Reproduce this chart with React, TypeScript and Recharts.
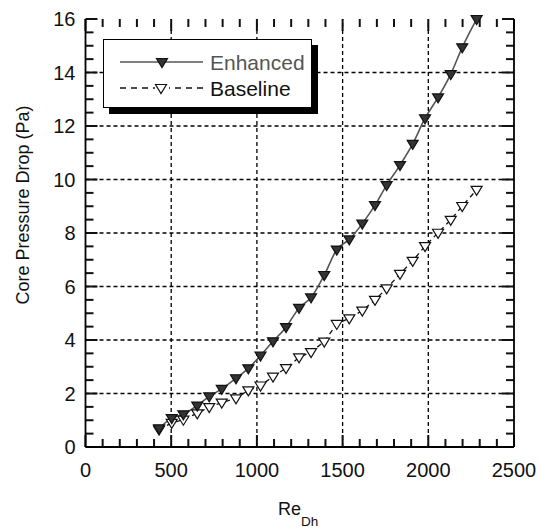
import { ComposedChart, Line, XAxis, YAxis, ReferenceLine } from 'recharts'

// Reynolds numbers (shared by both series)
const RE_DH = [429, 503, 571, 652, 722, 795, 878, 950, 1021, 1094, 1170, 1246, 1316, 1393, 1466, 1539, 1615, 1689, 1757, 1835, 1909, 1981, 2057, 2131, 2198, 2282]
const ENHANCED = [0.7, 1.08, 1.22, 1.55, 1.89, 2.17, 2.57, 2.94, 3.42, 3.95, 4.48, 5.2, 5.59, 6.43, 7.38, 7.76, 8.35, 9.04, 9.79, 10.54, 11.33, 12.29, 13.07, 13.94, 14.94, 16.0]
const BASELINE = [0.65, 0.9, 1.02, 1.26, 1.49, 1.66, 1.82, 2.12, 2.3, 2.63, 2.95, 3.35, 3.55, 3.94, 4.6, 4.81, 5.1, 5.5, 5.93, 6.47, 6.96, 7.51, 8.01, 8.49, 9.01, 9.61]

const X_TICKS = Array.from({ length: 26 }, (_, i) => i * 100)
const Y_TICKS = Array.from({ length: 33 }, (_, i) => i * 0.5)
const GRID_X = [500, 1000, 1500, 2000]
const GRID_Y = [2, 4, 6, 8, 10, 12, 14]

const data = RE_DH.map((re, i) => ({ re, enhanced: ENHANCED[i], baseline: BASELINE[i] }))

const FONT = '"Liberation Sans", Arial, sans-serif'
// plot is 428.5 x 428 px for 2500 x 16 units, used to size the inward ticks
const PX_X = 2500 / 428.5
const PX_Y = 16 / 428

const isMajorX = (v: number) => v % 500 === 0
const isMajorY = (v: number) => v % 2 === 0
const tickLen = (major: boolean) => (major ? 12 : 8)

function Tri({ cx, cy, fill }: { cx: number; cy: number; fill: string }) {
  return (
    <path
      d={`M${cx - 5.5},${cy - 3.5} L${cx + 5.5},${cy - 3.5} L${cx},${cy + 5.5} Z`}
      fill={fill}
      stroke="#111"
      strokeWidth={1.2}
    />
  )
}

function BottomLabel(p: any) {
  const v = p.payload.value
  if (!isMajorX(v)) return <g />
  return (
    <text x={p.x} y={p.y + 30} textAnchor="middle" fontSize={20} fontFamily={FONT} fill="#111">
      {v}
    </text>
  )
}

function LeftLabel(p: any) {
  const v = p.payload.value
  if (!isMajorY(v)) return <g />
  return (
    <text x={p.x - 10} y={p.y + 7} textAnchor="end" fontSize={20} fontFamily={FONT} fill="#111">
      {v}
    </text>
  )
}

function ChartLegend() {
  return (
    <div
      style={{
        position: 'absolute',
        left: 103,
        top: 39,
        width: 209,
        height: 69,
        boxSizing: 'border-box',
        border: '1.5px solid #000',
        boxShadow: '6px 6px 0 #000',
        background: '#fff',
      }}
    >
      <svg width={206} height={66} style={{ display: 'block' }}>
        <line x1={16} x2={99} y1={22} y2={22} stroke="#555" strokeWidth={1.5} />
        <Tri cx={58} cy={22} fill="#333" />
        <text x={106} y={30} fontSize={21} fontFamily={FONT} fill="#555">Enhanced</text>
        <line x1={16} x2={99} y1={48} y2={48} stroke="#111" strokeWidth={1.5} strokeDasharray="6 5" />
        <rect x={51} y={42} width={14} height={12} fill="#fff" />
        <Tri cx={57} cy={48} fill="#fff" />
        <text x={106} y={56} fontSize={21} fontFamily={FONT} fill="#111">Baseline</text>
      </svg>
    </div>
  )
}

const tickStroke = { stroke: '#111', strokeWidth: 2, ifOverflow: 'visible' as const }
const gridStroke = { stroke: '#000', strokeWidth: 1.3, strokeDasharray: '4 3' }
const frame = { stroke: '#000', strokeWidth: 1.8 }

export default function App() {
  return (
    <div style={{ position: 'absolute', left: 0, top: 0, width: 539, height: 528, background: '#fff' }}>
      <ComposedChart width={539} height={528} data={data} margin={{ top: 19, right: 0, bottom: 0, left: 0 }}>
        <XAxis
          xAxisId="b"
          dataKey="re"
          type="number"
          orientation="bottom"
          domain={[0, 2500]}
          ticks={X_TICKS}
          interval={0}
          height={81}
          tickSize={0}
          tickMargin={0}
          tick={BottomLabel}
          axisLine={frame}
          tickLine={false}
        />
        <XAxis xAxisId="t" dataKey="re" type="number" orientation="top" domain={[0, 2500]} height={0} tick={false} axisLine={frame} tickLine={false} />
        <YAxis
          yAxisId="l"
          type="number"
          orientation="left"
          domain={[0, 16]}
          ticks={Y_TICKS}
          interval={0}
          width={85.5}
          tickSize={0}
          tickMargin={0}
          tick={LeftLabel}
          axisLine={frame}
          tickLine={false}
        />
        <YAxis yAxisId="r" type="number" orientation="right" domain={[0, 16]} width={25} tick={false} axisLine={frame} tickLine={false} />
        {GRID_X.map((v) => (
          <ReferenceLine key={`gx${v}`} x={v} xAxisId="b" yAxisId="l" {...gridStroke} />
        ))}
        {GRID_Y.map((v) => (
          <ReferenceLine key={`gy${v}`} y={v} xAxisId="b" yAxisId="l" {...gridStroke} />
        ))}
        {X_TICKS.map((v) => (
          <ReferenceLine key={`bt${v}`} xAxisId="b" yAxisId="l" segment={[{ x: v, y: 0 }, { x: v, y: tickLen(isMajorX(v)) * PX_Y }]} {...tickStroke} />
        ))}
        {X_TICKS.map((v) => (
          <ReferenceLine key={`tt${v}`} xAxisId="b" yAxisId="l" segment={[{ x: v, y: 16 }, { x: v, y: 16 - tickLen(isMajorX(v)) * PX_Y }]} {...tickStroke} />
        ))}
        {Y_TICKS.map((v) => (
          <ReferenceLine key={`lt${v}`} xAxisId="b" yAxisId="l" segment={[{ x: 0, y: v }, { x: tickLen(isMajorY(v)) * PX_X, y: v }]} {...tickStroke} />
        ))}
        {Y_TICKS.map((v) => (
          <ReferenceLine key={`rt${v}`} xAxisId="b" yAxisId="l" segment={[{ x: 2500, y: v }, { x: 2500 - tickLen(isMajorY(v)) * PX_X, y: v }]} {...tickStroke} />
        ))}
        <Line
          xAxisId="t"
          yAxisId="r"
          dataKey="baseline"
          type="linear"
          stroke="#111"
          strokeWidth={1.3}
          strokeDasharray="5 4"
          isAnimationActive={false}
          dot={(p: any) => <Tri key={`b${p.index}`} cx={p.cx} cy={p.cy} fill="#fff" />}
          activeDot={false}
        />
        <Line
          xAxisId="b"
          yAxisId="l"
          dataKey="enhanced"
          type="monotone"
          stroke="#555"
          strokeWidth={1.6}
          isAnimationActive={false}
          dot={(p: any) => <Tri key={`e${p.index}`} cx={p.cx} cy={p.cy} fill="#333" />}
          activeDot={false}
        />
        <text x={23} y={205} transform="rotate(-90 23 205)" textAnchor="middle" dominantBaseline="central" fontSize={18} fontFamily={FONT} fill="#111">
          Core Pressure Drop (Pa)
        </text>
        <text x={278} y={515} fontSize={18} fontFamily={FONT} fill="#111">
          Re<tspan fontSize={13.5} dy={11}>Dh</tspan>
        </text>
      </ComposedChart>
      <ChartLegend />
    </div>
  )
}
